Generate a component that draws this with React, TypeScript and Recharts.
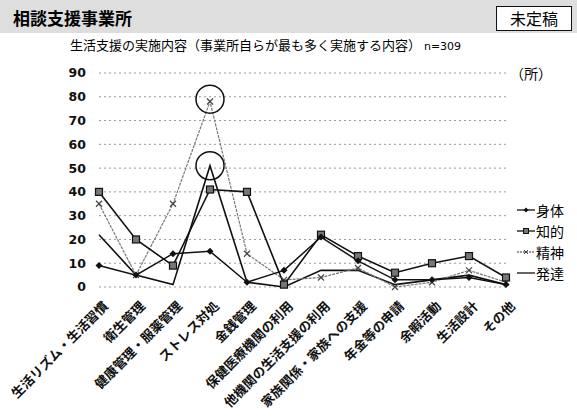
import React from 'react';
import { LineChart, Line, XAxis, YAxis, CartesianGrid, ReferenceDot } from 'recharts';

const categories = [
  '生活リズム・生活習慣',
  '衛生管理',
  '健康管理・服薬管理',
  'ストレス対処',
  '金銭管理',
  '保健医療機関の利用',
  '他機関の生活支援の利用',
  '家族関係・家族への支援',
  '年金等の申請',
  '余暇活動',
  '生活設計',
  'その他',
];

const shintai = [9, 5, 14, 15, 2, 7, 21, 11, 3, 3, 4, 1];
const chiteki = [40, 20, 9, 41, 40, 1, 22, 13, 6, 10, 13, 4];
const seishin = [35, 5, 35, 78, 14, 3, 4, 8, 0, 2, 7, 2];
const hattatsu = [22, 5, 1, 51, 2, 0, 7, 7, 1, 3, 5, 1];

const yTicks = [0, 10, 20, 30, 40, 50, 60, 70, 80, 90];
const highlightCategory = 'ストレス対処';
const highlightValues = [79, 51];

const data = categories.map((c, i) => ({
  name: c,
  身体: shintai[i],
  知的: chiteki[i],
  精神: seishin[i],
  発達: hattatsu[i],
}));

const JP = '"Noto Sans CJK JP", "Noto Sans", sans-serif';

const XTick = (props: any) => {
  const { x, y, payload } = props;
  const ax = x + 10;
  const ay = y + 18;
  return (
    <text
      x={ax}
      y={ay}
      transform={`rotate(-45, ${ax}, ${ay})`}
      textAnchor="end"
      fontSize={13}
      fontFamily={JP}
      fontWeight={700}
      fill="#111"
    >
      {payload.value}
    </text>
  );
};

const DiamondDot = (props: any) => {
  const { cx, cy, index } = props;
  if (cx == null || cy == null) return <g key={`d${index}`} />;
  return (
    <path
      key={`d${index}`}
      d={`M${cx},${cy - 3.5} L${cx + 3.5},${cy} L${cx},${cy + 3.5} L${cx - 3.5},${cy} Z`}
      fill="#111"
    />
  );
};

const SquareDot = (props: any) => {
  const { cx, cy, index } = props;
  if (cx == null || cy == null) return <g key={`s${index}`} />;
  return (
    <rect key={`s${index}`} x={cx - 3.5} y={cy - 3.5} width={7} height={7} fill="#777" stroke="#111" strokeWidth={1.2} />
  );
};

const CrossDot = (props: any) => {
  const { cx, cy, index } = props;
  if (cx == null || cy == null) return <g key={`c${index}`} />;
  return (
    <path
      key={`c${index}`}
      d={`M${cx - 3},${cy - 3} L${cx + 3},${cy + 3} M${cx - 3},${cy + 3} L${cx + 3},${cy - 3}`}
      stroke="#444"
      strokeWidth={1.2}
    />
  );
};

const legendItems = [
  { name: '身体', kind: 'diamond' },
  { name: '知的', kind: 'square' },
  { name: '精神', kind: 'cross' },
  { name: '発達', kind: 'none' },
];

const LegendSample = ({ kind }: { kind: string }) => (
  <svg width={18} height={10} style={{ display: 'block' }}>
    <line x1={0} y1={5} x2={18} y2={5} stroke={kind === 'cross' ? '#777' : '#111'} strokeWidth={1.3} strokeDasharray={kind === 'cross' ? '2 1' : undefined} />
    {kind === 'diamond' && <path d="M9,2.5 L11.5,5 L9,7.5 L6.5,5 Z" fill="#111" />}
    {kind === 'square' && <rect x={6.5} y={2.5} width={5} height={5} fill="#777" stroke="#111" />}
    {kind === 'cross' && <path d="M7,3 L11,7 M7,7 L11,3" stroke="#444" />}
  </svg>
);

export default function App() {
  return (
    <div style={{ position: 'absolute', left: 0, top: 0, width: 577, height: 416, background: '#fff', overflow: 'hidden' }}>
      <div style={{ position: 'absolute', left: 0, top: 0, width: 577, height: 33, background: '#dedede' }} />
      <div style={{ position: 'absolute', left: 13, top: 7, fontFamily: JP, fontWeight: 700, fontSize: 17, lineHeight: '22px', color: '#000' }}>
        相談支援事業所
      </div>
      <div style={{ position: 'absolute', left: 496, top: 6, width: 76, height: 25, border: '1.5px solid #111', background: '#fff', boxSizing: 'border-box', fontFamily: JP, fontSize: 16, lineHeight: '22px', textAlign: 'center', color: '#000' }}>
        未定稿
      </div>
      <div style={{ position: 'absolute', left: 70, top: 36, fontFamily: JP, fontSize: 13, lineHeight: '18px', color: '#000', whiteSpace: 'nowrap' }}>
        生活支援の実施内容（事業所自らが最も多く実施する内容） <span style={{ fontFamily: '"DejaVu Sans", sans-serif', fontSize: 11 }}>n=309</span>
      </div>
      <div style={{ position: 'absolute', left: 510, top: 63, fontFamily: JP, fontSize: 14, lineHeight: '20px', color: '#000' }}>
        （所）
      </div>
      <div style={{ position: 'absolute', left: 0, top: 0 }}>
        <LineChart width={577} height={416} data={data} margin={{ top: 73, right: 71, bottom: 0, left: 0 }}>
          <CartesianGrid vertical={false} stroke="#999" strokeDasharray="2 3" />
          <XAxis
            dataKey="name"
            interval={0}
            tick={<XTick />}
            axisLine={false}
            tickLine={false}
            height={129}
            tickSize={0}
          />
          <YAxis
            domain={[0, 90]}
            ticks={yTicks}
            width={99}
            axisLine={false}
            tickLine={false}
            tickSize={0}
            tickMargin={13}
            interval={0}
            tick={{ fontSize: 12.5, fill: '#111', fontFamily: '"DejaVu Sans", sans-serif', fontWeight: 700 }}
          />
          <Line dataKey="発達" stroke="#111" strokeWidth={1.6} dot={false} isAnimationActive={false} />
          <Line dataKey="精神" stroke="#777" strokeWidth={1.2} strokeDasharray="3 1" dot={<CrossDot />} isAnimationActive={false} />
          <Line dataKey="知的" stroke="#111" strokeWidth={1.6} dot={<SquareDot />} isAnimationActive={false} />
          <Line dataKey="身体" stroke="#111" strokeWidth={1.5} dot={<DiamondDot />} isAnimationActive={false} />
          {highlightValues.map((v) => (
            <ReferenceDot key={v} x={highlightCategory} y={v} r={14} fill="none" stroke="#111" strokeWidth={1.5} />
          ))}
        </LineChart>
      </div>
      <div style={{ position: 'absolute', left: 517, top: 199 }}>
        {legendItems.map((it) => (
          <div key={it.name} style={{ display: 'flex', alignItems: 'center', height: 21, fontFamily: JP, fontSize: 14, color: '#000' }}>
            <LegendSample kind={it.kind} />
            <span style={{ marginLeft: 1 }}>{it.name}</span>
          </div>
        ))}
      </div>
    </div>
  );
}
